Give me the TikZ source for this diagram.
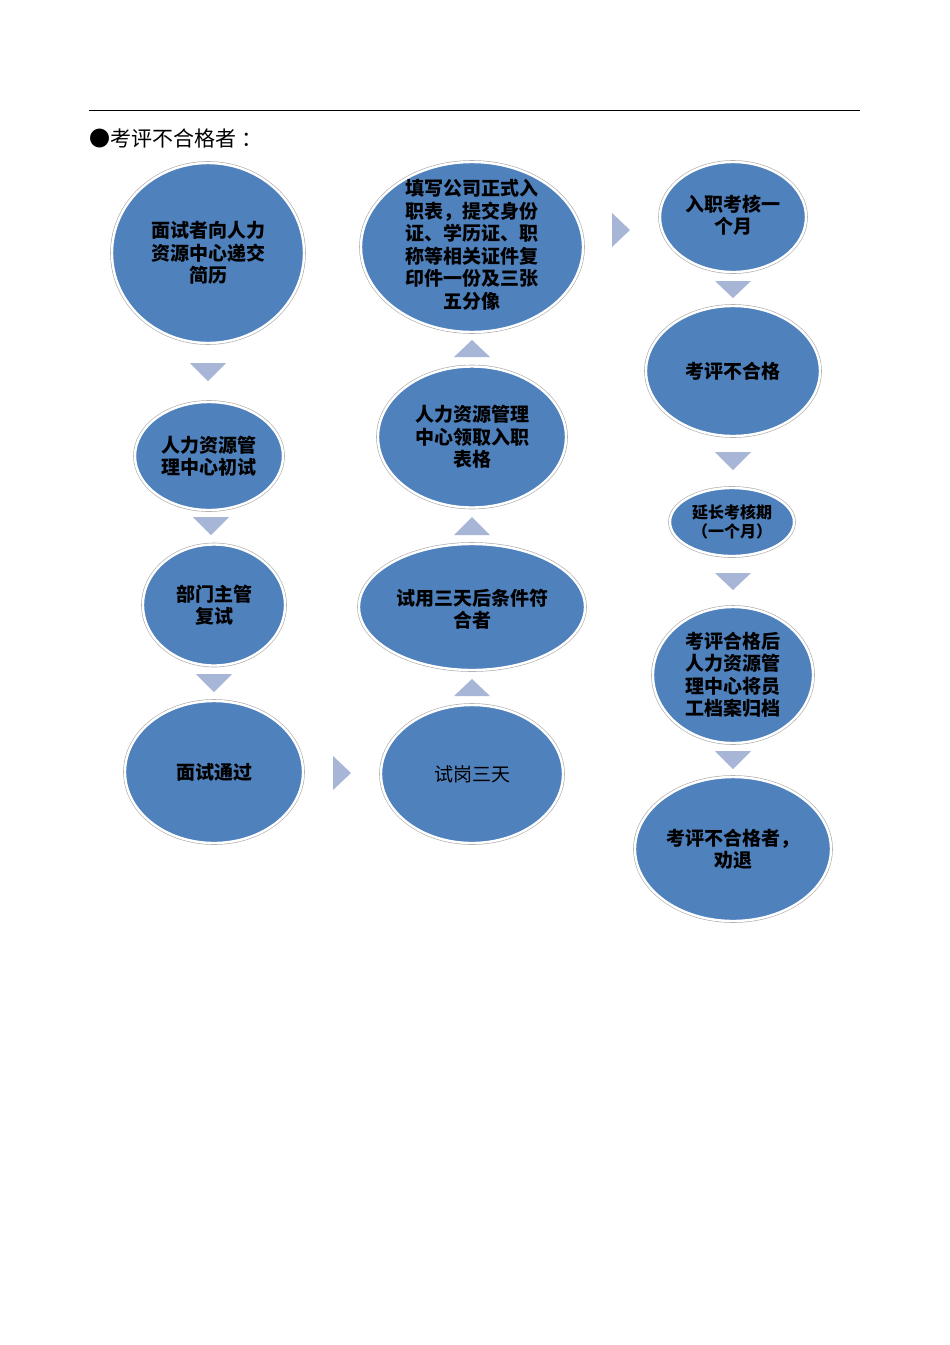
\documentclass[tikz,border=0pt]{standalone}
\usepackage{fontspec}
\setmainfont{Noto Sans CJK SC}
\newfontfamily\cjk{Noto Sans CJK SC}
\usetikzlibrary{shapes.geometric}
\definecolor{ellblue}{RGB}{79,129,189}
\definecolor{trifill}{RGB}{167,181,214}
\definecolor{rimgray}{RGB}{170,170,170}
\tikzset{
  bub/.style={ellipse, fill=ellblue, draw=white, line width=2.4pt, inner sep=0pt,
    preaction={draw=rimgray, line width=3.6pt}},
  txt/.style={font=\cjk\bfseries\fontsize{19}{22.5}\selectfont, align=center, text=black, inner sep=0pt},
  txtr/.style={font=\cjk\fontsize{19}{22.5}\selectfont, align=center, text=black, inner sep=0pt},
  txts/.style={font=\cjk\bfseries\fontsize{16}{19}\selectfont, align=center, text=black, inner sep=0pt},
  tri/.style={fill=trifill, draw=none},
}
\begin{document}
\begin{tikzpicture}[x=1pt,y=-1pt]
\useasboundingbox (0,0) rectangle (950,1345);
\fill[white] (0,0) rectangle (950,1345);
% header line and title
\coordinate (hl) at (89,110);
\coordinate (hr) at (860,110);
\draw[line width=0.8pt] (hl) -- (hr);
\node[anchor=west, inner sep=0pt, font=\cjk\fontsize{21}{24}\selectfont] (title) at (89,138) {●考评不合格者\hspace{5pt}：};

% column 1
\node[bub, minimum width=192pt, minimum height=180pt] (n1) at (208,253) {};
\node[txt] (t1) at (n1.center) {面试者向人力\\资源中心递交\\简历};
\node[bub, minimum width=148pt, minimum height=108pt] (n2) at (209,456) {};
\node[txt] (t2) at (n2.center) {人力资源管\\理中心初试};
\node[bub, minimum width=142pt, minimum height=121pt] (n3) at (214,605) {};
\node[txt] (t3) at (n3.center) {部门主管\\复试};
\node[bub, minimum width=178pt, minimum height=142pt] (n4) at (214,772) {};
\node[txt] (t4) at (n4.center) {面试通过};

% column 2
\node[bub, minimum width=182pt, minimum height=138pt] (n5) at (472,774) {};
\node[txtr] (t5) at (n5.center) {试岗三天};
\node[bub, minimum width=226pt, minimum height=126pt] (n6) at (472,607) {};
\node[txt] (t6) at ([yshift=-2pt]n6.center) {试用三天后条件符\\合者};
\node[bub, minimum width=188pt, minimum height=141pt] (n7) at (472,437) {};
\node[txt] (t7) at (n7.center) {人力资源管理\\中心领取入职\\表格};
\node[bub, minimum width=222pt, minimum height=170pt] (n8) at (472,247) {};
\node[txt] (t8) at ([yshift=2pt]n8.center) {填写公司正式入\\职表，提交身份\\证、学历证、职\\称等相关证件复\\印件一份及三张\\五分像};

% column 3
\node[bub, minimum width=146pt, minimum height=110pt] (n9) at (733,217) {};
\node[txt] (t9) at ([yshift=2pt]n9.center) {入职考核一\\个月};
\node[bub, minimum width=174pt, minimum height=130pt] (n10) at (733,371) {};
\node[txt] (t10) at (n10.center) {考评不合格};
\node[bub, minimum width=124pt, minimum height=68pt] (n11) at (732,522) {};
\node[txts] (t11) at (n11.center) {延长考核期\\（一个月）};
\node[bub, minimum width=160pt, minimum height=136pt] (n12) at (733,675) {};
\node[txt] (t12) at (n12.center) {考评合格后\\人力资源管\\理中心将员\\工档案归档};
\node[bub, minimum width=196pt, minimum height=144pt] (n13) at (733,849) {};
\node[txt] (t13) at (n13.center) {考评不合格者，\\劝退};

% connector triangles
% column 1 (down)
\fill[tri] (190,363) -- (226,363) -- (208,381) -- cycle;
\fill[tri] (193,517) -- (229,517) -- (211,535) -- cycle;
\fill[tri] (196,674) -- (232,674) -- (214,692) -- cycle;
% right between col1 and col2
\fill[tri] (333,756) -- (351,773) -- (333,790) -- cycle;
% column 2 (up)
\fill[tri] (454,696) -- (490,696) -- (472,679) -- cycle;
\fill[tri] (454,535) -- (490,535) -- (472,517) -- cycle;
\fill[tri] (454,357) -- (490,357) -- (472,340) -- cycle;
% right between col2 and col3
\fill[tri] (612,213) -- (630,230) -- (612,247) -- cycle;
% column 3 (down)
\fill[tri] (715,281) -- (751,281) -- (733,298) -- cycle;
\fill[tri] (715,452) -- (751,452) -- (733,470) -- cycle;
\fill[tri] (715,573) -- (751,573) -- (733,590) -- cycle;
\fill[tri] (715,751) -- (751,751) -- (733,769) -- cycle;
\end{tikzpicture}
\end{document}
